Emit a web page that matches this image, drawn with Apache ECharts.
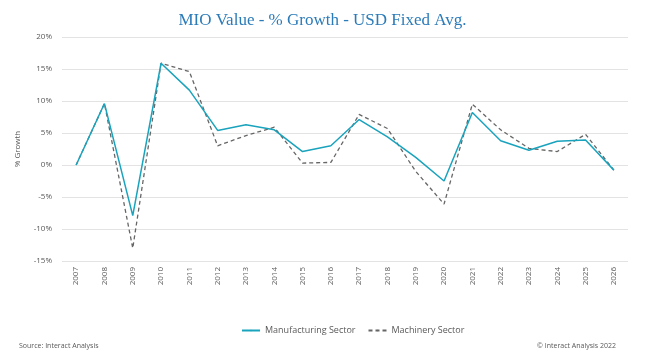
<!DOCTYPE html>
<html>
<head>
<meta charset="utf-8">
<script src="https://cdn.jsdelivr.net/npm/echarts@6/dist/echarts.min.js"></script>
<style>
  html, body { margin: 0; padding: 0; background: #fff; }
  #chart { width: 645px; height: 350px; }
</style>
</head>
<body>
<div id="chart"></div>
<script>
// data (% growth)
const years = ['2007', '2008', '2009', '2010', '2011', '2012', '2013', '2014', '2015', '2016',
  '2017', '2018', '2019', '2020', '2021', '2022', '2023', '2024', '2025', '2026']
const manufacturing = [0, 9.6, -7.9, 15.9, 11.7, 5.4, 6.3, 5.5, 2.1, 3.0,
  7.1, 4.4, 1.2, -2.5, 8.2, 3.8, 2.3, 3.7, 3.9, -0.8]
const machinery = [0, 9.6, -13.0, 15.9, 14.6, 3.0, 4.6, 5.9, 0.3, 0.4,
  7.9, 5.7, -1.0, -6.1, 9.5, 5.5, 2.6, 2.1, 4.8, -0.8]
const yTicks = [-15, -10, -5, 0, 5, 10, 15, 20]

const chart = echarts.init(document.getElementById('chart'))
const labelFont = 'Open Sans'

chart.setOption({
  animation: false,
  title: [
    {
      text: 'MIO Value - % Growth - USD Fixed Avg.',
      left: 'center',
      top: 7,
      textStyle: { fontFamily: 'Liberation Serif', fontSize: 17, fontWeight: 'normal', color: '#2b7bb9' }
    },
    {
      text: 'Source: Interact Analysis',
      left: 14,
      top: 337,
      textStyle: { fontFamily: labelFont, fontSize: 7, fontWeight: 'normal', color: '#595959' }
    },
    {
      text: '\u00a9 Interact Analysis 2022',
      right: 24,
      top: 337,
      textStyle: { fontFamily: labelFont, fontSize: 7, fontWeight: 'normal', color: '#595959' }
    }
  ],
  legend: {
    top: 321,
    left: 236,
    itemWidth: 18,
    itemHeight: 2,
    itemGap: 12,
    textStyle: { fontFamily: labelFont, fontSize: 9, color: '#595959' },
    data: ['Manufacturing Sector', 'Machinery Sector']
  },
  grid: { left: 62, right: 17, top: 37, bottom: 89 },
  xAxis: {
    type: 'category',
    data: years,
    boundaryGap: true,
    axisLine: { show: false },
    axisTick: { show: false },
    axisLabel: { rotate: 90, fontFamily: labelFont, fontSize: 8, color: '#595959', margin: 6 }
  },
  yAxis: {
    type: 'value',
    min: yTicks[0],
    max: yTicks[yTicks.length - 1],
    interval: 5,
    name: '% Growth',
    nameLocation: 'middle',
    nameGap: 40,
    nameTextStyle: { fontFamily: labelFont, fontSize: 8, color: '#595959' },
    axisLine: { show: false },
    axisTick: { show: false },
    axisLabel: { formatter: '{value}%', fontFamily: labelFont, fontSize: 8, color: '#595959', margin: 10 },
    splitLine: { lineStyle: { color: '#e3e3e3', width: 1 } }
  },
  series: [
    {
      name: 'Manufacturing Sector',
      type: 'line',
      data: manufacturing,
      symbol: 'none',
      itemStyle: { color: '#19a3bd' },
      lineStyle: { color: '#19a3bd', width: 1.5 },
      z: 3
    },
    {
      name: 'Machinery Sector',
      type: 'line',
      data: machinery,
      symbol: 'none',
      itemStyle: { color: '#666666' },
      lineStyle: { color: '#666666', width: 1.3, type: [4, 3] },
      z: 2
    }
  ]
})
</script>
</body>
</html>
